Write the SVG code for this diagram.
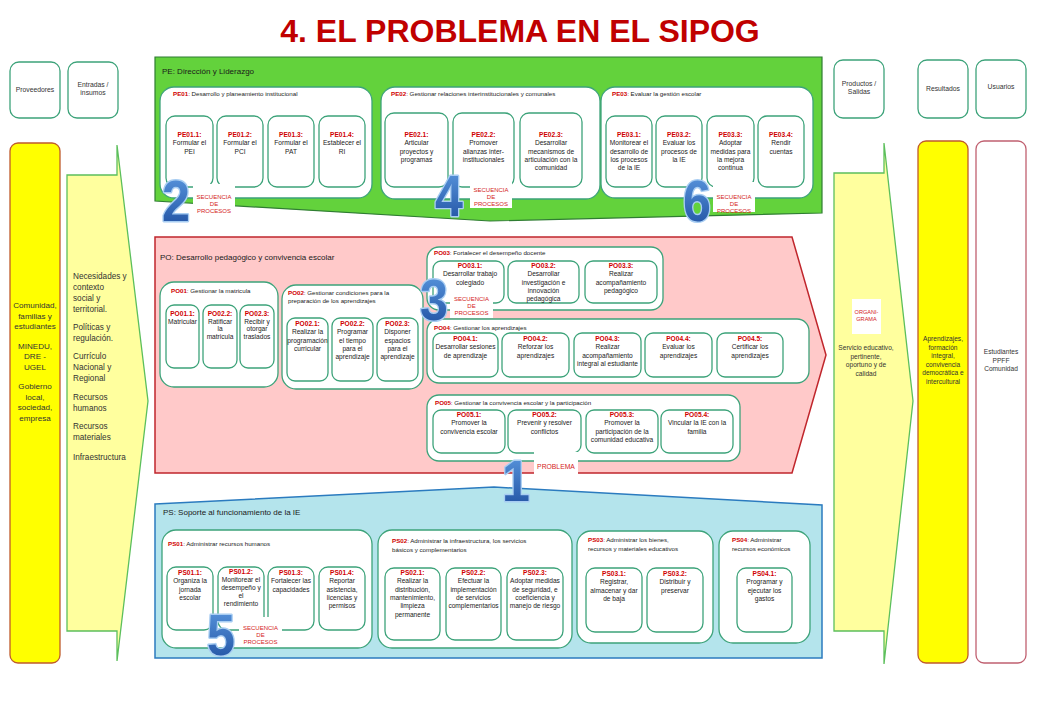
<svg xmlns="http://www.w3.org/2000/svg" width="1040" height="720" viewBox="0 0 1040 720">
<defs>
<linearGradient id="blue" x1="0" y1="0" x2="0" y2="1">
<stop offset="0" stop-color="#5d9be2"/>
<stop offset="1" stop-color="#1d4d9e"/>
</linearGradient>
<style>
text{font-family:"Liberation Sans",Arial,Helvetica,sans-serif}
.ttl{font-size:32px;font-weight:bold;fill:#c00000;text-anchor:middle}
.hdr{fill:#fff;stroke:#3da37a;stroke-width:1.3}
.ht{font-size:6.8px;fill:#333;text-anchor:middle}
.sec{font-size:8px;fill:#1a1a1a}
.grp{fill:#fff;stroke:#3da37a;stroke-width:1.3}
.box{fill:#fff;stroke:#3da37a;stroke-width:1.3}
.gt{font-size:6.2px;fill:#222}
.c{fill:#d00000;font-weight:bold}
.bt{font-size:6.6px;fill:#222;text-anchor:middle}
.num{font-size:57px;font-weight:bold;fill:url(#blue);stroke:#a8cdf2;stroke-width:3;paint-order:stroke;stroke-linejoin:round}
.sq{fill:#fff}
.sqt{font-size:6px;fill:#d41a1a;text-anchor:middle}
.colt{font-size:8.1px;fill:#333;text-anchor:middle}
.ent{font-size:8.2px;fill:#333}
.rt{font-size:6.6px;fill:#333;text-anchor:middle}
.ycol{fill:#ffff00;stroke:#bf5b2c;stroke-width:1.3}
.arr{fill:#ffff9e;stroke:#5cbf5c;stroke-width:1.3}
</style>
</defs>
<rect width="1040" height="720" fill="#fff"/>
<text class="ttl" x="520" y="42">4. EL PROBLEMA EN EL SIPOG</text>

<!-- left columns -->
<g id="hdr-proveedores"><rect class="hdr" x="10" y="62" width="50" height="56" rx="9"/><text class="ht" x="35" y="92">Proveedores</text></g>
<g id="hdr-entradas"><rect class="hdr" x="68" y="62" width="50" height="56" rx="9"/><text class="ht" x="93" y="87">Entradas /<tspan x="93" dy="8.3">insumos</tspan></text></g>
<g id="proveedores"><rect class="ycol" x="10" y="143" width="50" height="520" rx="8"/>
<text class="colt" x="35" y="308">Comunidad,<tspan x="35" dy="10.5">familias y</tspan><tspan x="35" dy="10.5">estudiantes</tspan><tspan x="35" dy="19.5">MINEDU,</tspan><tspan x="35" dy="10.5">DRE -</tspan><tspan x="35" dy="10.5">UGEL</tspan><tspan x="35" dy="19.5">Gobierno</tspan><tspan x="35" dy="10.5">local,</tspan><tspan x="35" dy="10.5">sociedad,</tspan><tspan x="35" dy="10.5">empresa</tspan></text></g>
<g id="entradas"><polygon class="arr" points="67,175 117,175 117,145 148,401 117,661 117,631 67,631"/>
<text class="ent" x="73" y="279">Necesidades y<tspan x="73" dy="11">contexto</tspan><tspan x="73" dy="11">social y</tspan><tspan x="73" dy="11">territorial.</tspan><tspan x="73" dy="18">Políticas y</tspan><tspan x="73" dy="11">regulación.</tspan><tspan x="73" dy="18">Currículo</tspan><tspan x="73" dy="11">Nacional y</tspan><tspan x="73" dy="11">Regional</tspan><tspan x="73" dy="19">Recursos</tspan><tspan x="73" dy="11">humanos</tspan><tspan x="73" dy="18">Recursos</tspan><tspan x="73" dy="11">materiales</tspan><tspan x="73" dy="20">Infraestructura</tspan></text></g>

<!-- right columns -->
<g id="hdr-productos"><rect class="hdr" x="834" y="60" width="50" height="58" rx="9"/><text class="ht" x="859" y="86">Productos /<tspan x="859" dy="8.3">Salidas</tspan></text></g>
<g id="hdr-resultados"><rect class="hdr" x="918" y="60" width="50" height="58" rx="9"/><text class="ht" x="943" y="91">Resultados</text></g>
<g id="hdr-usuarios"><rect class="hdr" x="976" y="60" width="50" height="58" rx="9"/><text class="ht" x="1001" y="89">Usuarios</text></g>
<g id="productos"><polygon class="arr" points="834,173 884,173 884,143 913,401 884,664 884,631 834,631"/>
<rect x="852" y="299" width="29" height="35" fill="#fff"/>
<text class="sqt" x="866.5" y="314" style="font-size:5.6px">ORGANI-<tspan x="866.5" dy="7">GRAMA</tspan></text>
<text class="rt" x="866" y="350">Servicio educativo,<tspan x="866" dy="8.6">pertinente,</tspan><tspan x="866" dy="8.6">oportuno y de</tspan><tspan x="866" dy="8.6">calidad</tspan></text></g>
<g id="resultados"><rect class="ycol" x="918" y="141" width="50" height="522" rx="8"/>
<text class="rt" x="943" y="341">Aprendizajes,<tspan x="943" dy="8.5">formación</tspan><tspan x="943" dy="8.5">integral,</tspan><tspan x="943" dy="8.5">convivencia</tspan><tspan x="943" dy="8.5">democrática e</tspan><tspan x="943" dy="8.5">intercultural</tspan></text></g>
<g id="usuarios"><rect x="976" y="141" width="50" height="522" rx="8" fill="#fff" stroke="#c06070" stroke-width="1.3"/>
<text class="rt" x="1001" y="354">Estudiantes<tspan x="1001" dy="8.6">PPFF</tspan><tspan x="1001" dy="8.6">Comunidad</tspan></text></g>

<!-- PE -->
<g id="pe"><polygon points="155,57 822,57 822,213 490,221 155,201" fill="#63d23c" stroke="#2f7d32" stroke-width="1.2"/>
<text class="sec" x="162" y="74">PE: Dirección y Liderazgo</text></g>
<g id="pe01"><rect class="grp" x="160" y="87" width="212" height="111" rx="14"/>
<text class="gt" x="173" y="96"><tspan class="c">PE01</tspan>: Desarrollo y planeamiento institucional</text></g>
<g id="pe01-1"><rect class="box" x="166" y="116" width="47" height="71" rx="9"/><text class="bt" x="189.5" y="137"><tspan class="c">PE01.1:</tspan><tspan x="189.5" dy="8.3">Formular el</tspan><tspan x="189.5" dy="8.3">PEI</tspan></text></g>
<g id="pe01-2"><rect class="box" x="217" y="116" width="46" height="71" rx="9"/><text class="bt" x="240" y="137"><tspan class="c">PE01.2:</tspan><tspan x="240" dy="8.3">Formular el</tspan><tspan x="240" dy="8.3">PCI</tspan></text></g>
<g id="pe01-3"><rect class="box" x="268" y="116" width="46" height="71" rx="9"/><text class="bt" x="291" y="137"><tspan class="c">PE01.3:</tspan><tspan x="291" dy="8.3">Formular el</tspan><tspan x="291" dy="8.3">PAT</tspan></text></g>
<g id="pe01-4"><rect class="box" x="319" y="116" width="46" height="71" rx="9"/><text class="bt" x="342" y="137"><tspan class="c">PE01.4:</tspan><tspan x="342" dy="8.3">Establecer el</tspan><tspan x="342" dy="8.3">RI</tspan></text></g>

<g id="pe02"><rect class="grp" x="381" y="87" width="219" height="112" rx="14"/>
<text class="gt" x="391" y="96"><tspan class="c">PE02</tspan>: Gestionar relaciones interinstitucionales y comunales</text></g>
<g id="pe02-1"><rect class="box" x="385" y="113" width="63" height="74" rx="9"/><text class="bt" x="416.5" y="137"><tspan class="c">PE02.1:</tspan><tspan x="416.5" dy="8.3">Articular</tspan><tspan x="416.5" dy="8.3">proyectos y</tspan><tspan x="416.5" dy="8.3">programas</tspan></text></g>
<g id="pe02-2"><rect class="box" x="453" y="113" width="61" height="74" rx="9"/><text class="bt" x="483.5" y="137"><tspan class="c">PE02.2:</tspan><tspan x="483.5" dy="8.3">Promover</tspan><tspan x="483.5" dy="8.3">alianzas inter-</tspan><tspan x="483.5" dy="8.3">institucionales</tspan></text></g>
<g id="pe02-3"><rect class="box" x="520" y="113" width="62" height="74" rx="9"/><text class="bt" x="551" y="137"><tspan class="c">PE02.3:</tspan><tspan x="551" dy="8.3">Desarrollar</tspan><tspan x="551" dy="8.3">mecanismos de</tspan><tspan x="551" dy="8.3">articulación con la</tspan><tspan x="551" dy="8.3">comunidad</tspan></text></g>

<g id="pe03"><rect class="grp" x="601" y="87" width="212" height="111" rx="14"/>
<text class="gt" x="612" y="96"><tspan class="c">PE03</tspan>: Evaluar la gestión escolar</text></g>
<g id="pe03-1"><rect class="box" x="606" y="116" width="46" height="71" rx="9"/><text class="bt" x="629" y="137"><tspan class="c">PE03.1:</tspan><tspan x="629" dy="8.3">Monitorear el</tspan><tspan x="629" dy="8.3">desarrollo de</tspan><tspan x="629" dy="8.3">los procesos</tspan><tspan x="629" dy="8.3">de la IE</tspan></text></g>
<g id="pe03-2"><rect class="box" x="656" y="116" width="46" height="71" rx="9"/><text class="bt" x="679" y="137"><tspan class="c">PE03.2:</tspan><tspan x="679" dy="8.3">Evaluar los</tspan><tspan x="679" dy="8.3">procesos de</tspan><tspan x="679" dy="8.3">la IE</tspan></text></g>
<g id="pe03-3"><rect class="box" x="707" y="116" width="47" height="71" rx="9"/><text class="bt" x="730.5" y="137"><tspan class="c">PE03.3:</tspan><tspan x="730.5" dy="8.3">Adoptar</tspan><tspan x="730.5" dy="8.3">medidas para</tspan><tspan x="730.5" dy="8.3">la mejora</tspan><tspan x="730.5" dy="8.3">continua</tspan></text></g>
<g id="pe03-4"><rect class="box" x="758" y="116" width="46" height="71" rx="9"/><text class="bt" x="781" y="137"><tspan class="c">PE03.4:</tspan><tspan x="781" dy="8.3">Rendir</tspan><tspan x="781" dy="8.3">cuentas</tspan></text></g>

<!-- PO -->
<g id="po"><polygon points="155,237 792,237 826,355 792,473 155,473" fill="#ffc9c9" stroke="#c0262c" stroke-width="1.5"/>
<text class="sec" x="160" y="260">PO: Desarrollo pedagógico y convivencia escolar</text></g>
<g id="po01"><rect class="grp" x="160" y="282" width="118" height="105" rx="14"/>
<text class="gt" x="171" y="293"><tspan class="c">PO01</tspan>: Gestionar la matricula</text></g>
<g id="po01-1"><rect class="box" x="166" y="305" width="33" height="63" rx="8"/><text class="bt" x="182.5" y="316"><tspan class="c">PO01.1:</tspan><tspan x="182.5" dy="7.5">Matricular</tspan></text></g>
<g id="po01-2"><rect class="box" x="203" y="305" width="34" height="63" rx="8"/><text class="bt" x="220" y="316"><tspan class="c">PO02.2:</tspan><tspan x="220" dy="7.5">Ratificar</tspan><tspan x="220" dy="7.5">la</tspan><tspan x="220" dy="7.5">matricula</tspan></text></g>
<g id="po01-3"><rect class="box" x="240" y="305" width="34" height="63" rx="8"/><text class="bt" x="257" y="316"><tspan class="c">PO02.3:</tspan><tspan x="257" dy="7.5">Recibir y</tspan><tspan x="257" dy="7.5">otorgar</tspan><tspan x="257" dy="7.5">traslados</tspan></text></g>

<g id="po02"><rect class="grp" x="282" y="285" width="141" height="104" rx="14"/>
<text class="gt" x="288" y="295"><tspan class="c">PO02</tspan>: Gestionar condiciones para la<tspan x="288" dy="8.3">preparación de los aprendizajes</tspan></text></g>
<g id="po02-1"><rect class="box" x="287" y="318" width="41" height="63" rx="8"/><text class="bt" x="307.5" y="326"><tspan class="c">PO02.1:</tspan><tspan x="307.5" dy="8.3">Realizar la</tspan><tspan x="307.5" dy="8.3">programación</tspan><tspan x="307.5" dy="8.3">curricular</tspan></text></g>
<g id="po02-2"><rect class="box" x="332" y="318" width="41" height="63" rx="8"/><text class="bt" x="352.5" y="326"><tspan class="c">PO02.2:</tspan><tspan x="352.5" dy="8.3">Programar</tspan><tspan x="352.5" dy="8.3">el tiempo</tspan><tspan x="352.5" dy="8.3">para el</tspan><tspan x="352.5" dy="8.3">aprendizaje</tspan></text></g>
<g id="po02-3"><rect class="box" x="377" y="318" width="41" height="63" rx="8"/><text class="bt" x="397.5" y="326"><tspan class="c">PO02.3:</tspan><tspan x="397.5" dy="8.3">Disponer</tspan><tspan x="397.5" dy="8.3">espacios</tspan><tspan x="397.5" dy="8.3">para el</tspan><tspan x="397.5" dy="8.3">aprendizaje</tspan></text></g>

<g id="po03"><rect class="grp" x="427" y="247" width="236" height="63" rx="12"/>
<text class="gt" x="434" y="255"><tspan class="c">PO03</tspan>: Fortalecer el desempeño docente</text></g>
<g id="po03-1"><rect class="box" x="433" y="261" width="71" height="42" rx="8"/><text class="bt" x="470" y="268"><tspan class="c">PO03.1:</tspan><tspan x="470" dy="8.3">Desarrollar trabajo</tspan><tspan x="470" dy="8.3">colegiado</tspan></text></g>
<g id="po03-2"><rect class="box" x="508" y="261" width="71" height="42" rx="8"/><text class="bt" x="543.5" y="268"><tspan class="c">PO03.2:</tspan><tspan x="543.5" dy="8.3">Desarrollar</tspan><tspan x="543.5" dy="8.3">investigación e</tspan><tspan x="543.5" dy="8.3">innovación</tspan><tspan x="543.5" dy="8.3">pedagógica</tspan></text></g>
<g id="po03-3"><rect class="box" x="585" y="261" width="72" height="42" rx="8"/><text class="bt" x="621" y="268"><tspan class="c">PO03.3:</tspan><tspan x="621" dy="8.3">Realizar</tspan><tspan x="621" dy="8.3">acompañamiento</tspan><tspan x="621" dy="8.3">pedagógico</tspan></text></g>

<g id="po04"><rect class="grp" x="427" y="319" width="382" height="64" rx="12"/>
<text class="gt" x="434" y="330"><tspan class="c">PO04</tspan>: Gestionar los aprendizajes</text></g>
<g id="po04-1"><rect class="box" x="433" y="333" width="65" height="44" rx="8"/><text class="bt" x="465.5" y="341"><tspan class="c">PO04.1:</tspan><tspan x="465.5" dy="8.3">Desarrollar sesiones</tspan><tspan x="465.5" dy="8.3">de aprendizaje</tspan></text></g>
<g id="po04-2"><rect class="box" x="502" y="333" width="67" height="44" rx="8"/><text class="bt" x="535.5" y="341"><tspan class="c">PO04.2:</tspan><tspan x="535.5" dy="8.3">Reforzar los</tspan><tspan x="535.5" dy="8.3">aprendizajes</tspan></text></g>
<g id="po04-3"><rect class="box" x="574" y="333" width="67" height="44" rx="8"/><text class="bt" x="607.5" y="341"><tspan class="c">PO04.3:</tspan><tspan x="607.5" dy="8.3">Realizar</tspan><tspan x="607.5" dy="8.3">acompañamiento</tspan><tspan x="607.5" dy="8.3">integral al estudiante</tspan></text></g>
<g id="po04-4"><rect class="box" x="645" y="333" width="67" height="44" rx="8"/><text class="bt" x="678.5" y="341"><tspan class="c">PO04.4:</tspan><tspan x="678.5" dy="8.3">Evaluar los</tspan><tspan x="678.5" dy="8.3">aprendizajes</tspan></text></g>
<g id="po04-5"><rect class="box" x="717" y="333" width="66" height="44" rx="8"/><text class="bt" x="750" y="341"><tspan class="c">PO04.5:</tspan><tspan x="750" dy="8.3">Certificar los</tspan><tspan x="750" dy="8.3">aprendizajes</tspan></text></g>

<g id="po05"><rect class="grp" x="427" y="395" width="313" height="66" rx="12"/>
<text class="gt" x="435" y="405"><tspan class="c">PO05</tspan>: Gestionar la convivencia escolar y la participación</text></g>
<g id="po05-1"><rect class="box" x="433" y="410" width="72" height="43" rx="8"/><text class="bt" x="469" y="417"><tspan class="c">PO05.1:</tspan><tspan x="469" dy="8.3">Promover la</tspan><tspan x="469" dy="8.3">convivencia escolar</tspan></text></g>
<g id="po05-2"><rect class="box" x="508" y="410" width="73" height="43" rx="8"/><text class="bt" x="544.5" y="417"><tspan class="c">PO05.2:</tspan><tspan x="544.5" dy="8.3">Prevenir y resolver</tspan><tspan x="544.5" dy="8.3">conflictos</tspan></text></g>
<g id="po05-3"><rect class="box" x="586" y="410" width="72" height="43" rx="8"/><text class="bt" x="622" y="417"><tspan class="c">PO05.3:</tspan><tspan x="622" dy="8.3">Promover la</tspan><tspan x="622" dy="8.3">participación de la</tspan><tspan x="622" dy="8.3">comunidad educativa</tspan></text></g>
<g id="po05-4"><rect class="box" x="661" y="410" width="72" height="43" rx="8"/><text class="bt" x="697" y="417"><tspan class="c">PO05.4:</tspan><tspan x="697" dy="8.3">Vincular la IE con la</tspan><tspan x="697" dy="8.3">familia</tspan></text></g>

<!-- PS -->
<g id="ps"><polygon points="155,504 494,487 822,505 822,658 155,658" fill="#b4e4ec" stroke="#2b7bbf" stroke-width="1.5"/>
<text class="sec" x="163" y="515">PS: Soporte al funcionamiento de la IE</text></g>
<g id="ps01"><rect class="grp" x="162" y="530" width="210" height="118" rx="14"/>
<text class="gt" x="168" y="546"><tspan class="c">PS01</tspan>: Administrar recursos humanos</text></g>
<g id="ps01-1"><rect class="box" x="167" y="567" width="46" height="63" rx="9"/><text class="bt" x="190" y="575"><tspan class="c">PS01.1:</tspan><tspan x="190" dy="8.3">Organiza la</tspan><tspan x="190" dy="8.3">jornada</tspan><tspan x="190" dy="8.3">escolar</tspan></text></g>
<g id="ps01-2"><rect class="box" x="218" y="567" width="46" height="63" rx="9"/><text class="bt" x="241" y="574"><tspan class="c">PS01.2:</tspan><tspan x="241" dy="8">Monitorear el</tspan><tspan x="241" dy="8">desempeño y</tspan><tspan x="241" dy="8">el</tspan><tspan x="241" dy="8">rendimiento</tspan></text></g>
<g id="ps01-3"><rect class="box" x="268" y="567" width="46" height="63" rx="9"/><text class="bt" x="291" y="575"><tspan class="c">PS01.3:</tspan><tspan x="291" dy="8.3">Fortalecer las</tspan><tspan x="291" dy="8.3">capacidades</tspan></text></g>
<g id="ps01-4"><rect class="box" x="319" y="567" width="46" height="63" rx="9"/><text class="bt" x="342" y="575"><tspan class="c">PS01.4:</tspan><tspan x="342" dy="8.3">Reportar</tspan><tspan x="342" dy="8.3">asistencia,</tspan><tspan x="342" dy="8.3">licencias y</tspan><tspan x="342" dy="8.3">permisos</tspan></text></g>

<g id="ps02"><rect class="grp" x="378" y="530" width="194" height="118" rx="14"/>
<text class="gt" x="392" y="543"><tspan class="c">PS02</tspan>: Administrar la infraestructura, los servicios<tspan x="392" dy="8.5">básicos y complementarios</tspan></text></g>
<g id="ps02-1"><rect class="box" x="385" y="568" width="55" height="72" rx="9"/><text class="bt" x="412.5" y="575"><tspan class="c">PS02.1:</tspan><tspan x="412.5" dy="8.3">Realizar la</tspan><tspan x="412.5" dy="8.3">distribución,</tspan><tspan x="412.5" dy="8.3">mantenimiento,</tspan><tspan x="412.5" dy="8.3">limpieza</tspan><tspan x="412.5" dy="8.3">permanente</tspan></text></g>
<g id="ps02-2"><rect class="box" x="446" y="568" width="55" height="72" rx="9"/><text class="bt" x="473.5" y="575"><tspan class="c">PS02.2:</tspan><tspan x="473.5" dy="8.3">Efectuar la</tspan><tspan x="473.5" dy="8.3">implementación</tspan><tspan x="473.5" dy="8.3">de servicios</tspan><tspan x="473.5" dy="8.3">complementarios</tspan></text></g>
<g id="ps02-3"><rect class="box" x="507" y="568" width="56" height="72" rx="9"/><text class="bt" x="535" y="575"><tspan class="c">PS02.3:</tspan><tspan x="535" dy="8.3">Adoptar medidas</tspan><tspan x="535" dy="8.3">de seguridad, e</tspan><tspan x="535" dy="8.3">coeficiencia y</tspan><tspan x="535" dy="8.3">manejo de riesgo</tspan></text></g>

<g id="ps03"><rect class="grp" x="577" y="531" width="136" height="112" rx="14"/>
<text class="gt" x="588" y="542"><tspan class="c">PS03</tspan>: Administrar los bienes,<tspan x="588" dy="8.5">recursos y materiales educativos</tspan></text></g>
<g id="ps03-1"><rect class="box" x="586" y="568" width="56" height="64" rx="9"/><text class="bt" x="614" y="576"><tspan class="c">PS03.1:</tspan><tspan x="614" dy="8.3">Registrar,</tspan><tspan x="614" dy="8.3">almacenar y dar</tspan><tspan x="614" dy="8.3">de baja</tspan></text></g>
<g id="ps03-2"><rect class="box" x="647" y="568" width="56" height="64" rx="9"/><text class="bt" x="675" y="576"><tspan class="c">PS03.2:</tspan><tspan x="675" dy="8.3">Distribuir y</tspan><tspan x="675" dy="8.3">preservar</tspan></text></g>

<g id="ps04"><rect class="grp" x="719" y="531" width="91" height="112" rx="14"/>
<text class="gt" x="732" y="542"><tspan class="c">PS04</tspan>: Administrar<tspan x="732" dy="8.5">recursos económicos</tspan></text></g>
<g id="ps04-1"><rect class="box" x="737" y="568" width="55" height="64" rx="9"/><text class="bt" x="764.5" y="576"><tspan class="c">PS04.1:</tspan><tspan x="764.5" dy="8.3">Programar y</tspan><tspan x="764.5" dy="8.3">ejecutar los</tspan><tspan x="764.5" dy="8.3">gastos</tspan></text></g>

<g id="connectors"></g>

<!-- numbered markers -->
<g id="mark-2"><rect class="sq" x="193" y="184" width="42" height="29"/><text class="sqt" x="214" y="199">SECUENCIA<tspan x="214" dy="7">DE</tspan><tspan x="214" dy="7">PROCESOS</tspan></text>
<text class="num" transform="translate(162,221) scale(0.88,1)">2</text></g>
<g id="mark-4"><rect class="sq" x="470" y="178" width="42" height="30"/><text class="sqt" x="491" y="192">SECUENCIA<tspan x="491" dy="7">DE</tspan><tspan x="491" dy="7">PROCESOS</tspan></text>
<text class="num" transform="translate(435,216) scale(0.88,1)">4</text></g>
<g id="mark-6"><rect class="sq" x="713" y="182" width="42" height="30"/><text class="sqt" x="734" y="199">SECUENCIA<tspan x="734" dy="7">DE</tspan><tspan x="734" dy="7">PROCESOS</tspan></text>
<text class="num" transform="translate(683,221) scale(0.88,1)">6</text></g>
<g id="mark-3"><rect class="sq" x="450" y="291" width="43" height="27"/><text class="sqt" x="471.5" y="301">SECUENCIA<tspan x="471.5" dy="7">DE</tspan><tspan x="471.5" dy="7">PROCESOS</tspan></text>
<text class="num" transform="translate(420,320) scale(0.88,1)">3</text></g>
<g id="mark-5"><rect class="sq" x="239" y="617" width="43" height="30"/><text class="sqt" x="260.5" y="630">SECUENCIA<tspan x="260.5" dy="7">DE</tspan><tspan x="260.5" dy="7">PROCESOS</tspan></text>
<text class="num" transform="translate(207,655) scale(0.88,1)">5</text></g>
<g id="mark-1"><rect class="sq" x="534" y="452" width="44" height="26"/><text class="sqt" x="556" y="469" style="font-size:6.8px">PROBLEMA</text>
<text class="num" transform="translate(502,501) scale(0.88,1)">1</text></g>
</svg>
